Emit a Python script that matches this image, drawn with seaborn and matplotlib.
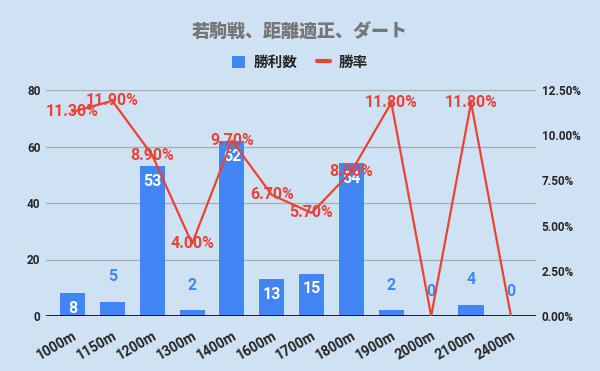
import numpy as np
import matplotlib
matplotlib.use("Agg")
import matplotlib.pyplot as plt
import seaborn as sns
from matplotlib.patches import Patch
from matplotlib.lines import Line2D

# data
distances = ["1000m", "1150m", "1200m", "1300m", "1400m", "1600m",
             "1700m", "1800m", "1900m", "2000m", "2100m", "2400m"]
wins = [8, 5, 53, 2, 62, 13, 15, 54, 2, 0, 4, 0]
win_rate = [11.3, 11.9, 8.9, 4.0, 9.7, 6.7, 5.7, 8.0, 11.8, 0.0, 11.8, 0.0]

title = "若駒戦、距離適正、ダート"
bar_name = "勝利数"
line_name = "勝率"

BG = "#cfe2f3"
BLUE = "#4285f4"
RED = "#ea4335"
GRID = "#a3adb8"

sns.set_style("white")
plt.rcParams["font.family"] = ["Roboto", "Noto Sans CJK JP", "DejaVu Sans"]

fig = plt.figure(figsize=(6, 3.71), dpi=100, facecolor=BG)
ax = fig.add_axes([46 / 600, 1 - 316 / 371, 490 / 600, 226 / 371])
ax.set_facecolor(BG)

sns.barplot(x=distances, y=wins, color=BLUE, width=0.63, saturation=1,
            linewidth=0, edgecolor="none", ax=ax)
ax.set_xlim(-0.665, 11.63)
ax.set_ylim(0, 80)
ax.set_yticks([0, 20, 40, 60, 80])
ax.grid(axis="y", color=GRID, linewidth=0.9)
ax.set_axisbelow(True)
for s in ax.spines.values():
    s.set_visible(False)
ax.axhline(0, color="black", linewidth=1.2, zorder=3)
ax.tick_params(axis="y", length=0, pad=4)
ax.tick_params(axis="x", length=0, pad=9)
ax.set_xlabel("")
ax.set_ylabel("")
for lab in ax.get_yticklabels():
    lab.set_fontweight("bold")
    lab.set_fontsize(8.5)
ax.set_xticks(range(len(distances)))
ax.set_xticklabels(distances, rotation=30, ha="right", rotation_mode="anchor",
                   fontsize=10, fontweight="bold")

# bar value labels
for i, v in enumerate(wins):
    if v >= 8:
        ax.annotate(str(v), (i, v), xytext=(0, -11), textcoords="offset points",
                    ha="center", va="center", color="white", fontsize=11.5,
                    fontweight="bold", zorder=5)
    else:
        ax.annotate(str(v), (i, v), xytext=(0, 18), textcoords="offset points",
                    ha="center", va="center", color=BLUE, fontsize=11.5,
                    fontweight="bold", zorder=5)

ax2 = ax.twinx()
sns.lineplot(x=np.arange(len(distances)), y=win_rate, color=RED, linewidth=1.6,
             sort=False, ax=ax2)
ax2.set_xlim(-0.665, 11.63)
ax2.set_ylim(0, 12.5)
ax2.set_yticks([0, 2.5, 5, 7.5, 10, 12.5])
ax2.set_yticklabels([f"{t:.2f}%" for t in [0, 2.5, 5, 7.5, 10, 12.5]],
                    fontsize=8.5, fontweight="bold")
ax2.tick_params(length=0, pad=4)
for s in ax2.spines.values():
    s.set_visible(False)

for i, r in enumerate(win_rate):
    if r > 0:
        ax2.text(i, r, f"{r:.2f}%", ha="center", va="center", color=RED,
                 fontsize=11.5, fontweight="bold", zorder=6)

fig.text(0.5, 1 - 32 / 371, title, ha="center", va="center", fontsize=13,
         fontweight="heavy", color="#757575",
         family=["Noto Sans CJK JP", "DejaVu Sans"])

handles = [Patch(facecolor=BLUE, edgecolor="none"),
           Line2D([0], [0], color=RED, linewidth=3)]
fig.legend(handles, [bar_name, line_name], loc="center",
           bbox_to_anchor=(0.5, 1 - 62 / 371), ncol=2, frameon=False,
           prop={"family": ["Noto Sans CJK JP"], "size": 10.5, "weight": "bold"},
           handlelength=0.9, handleheight=0.9, columnspacing=1.3,
           handletextpad=0.6)

fig.savefig("out.png", dpi=100, facecolor=BG)
